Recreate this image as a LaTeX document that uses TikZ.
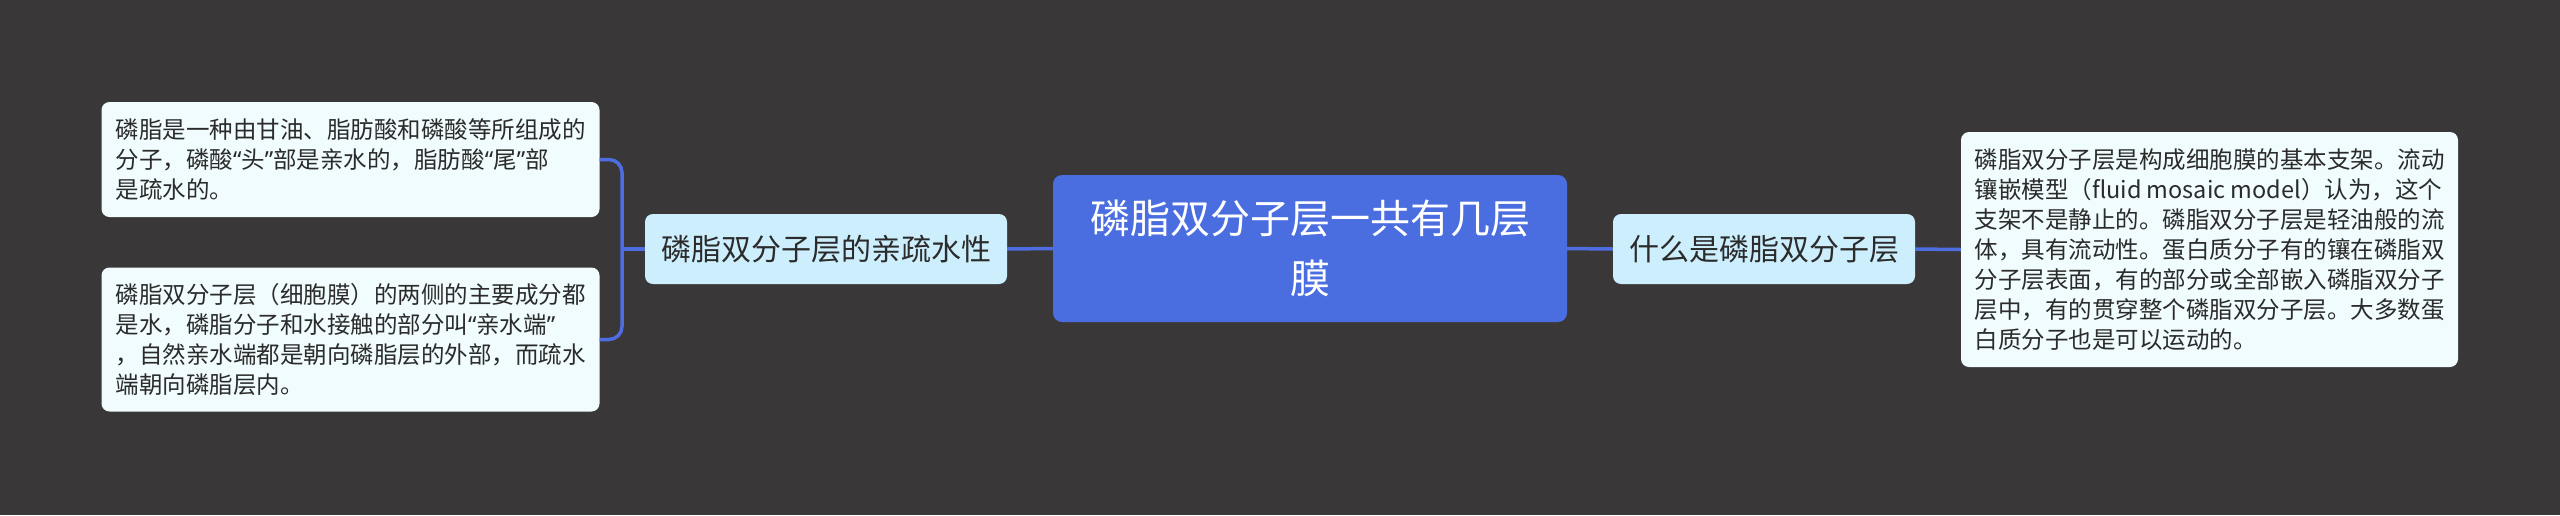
\documentclass[tikz,border=0pt]{standalone}
\usepackage{fontspec}
\setmainfont{Noto Sans CJK SC}
\newfontfamily\latq{Noto Sans}
\newcommand{\myLq}{{\latq “}}
\newcommand{\myRq}{{\latq ”}}
\definecolor{bgc}{HTML}{3A3738}
\definecolor{linec}{HTML}{4E6DE0}
\definecolor{rootc}{HTML}{4A6DE0}
\definecolor{midc}{HTML}{CDEFFD}
\definecolor{leafc}{HTML}{F0FCFD}
\definecolor{txtc}{HTML}{2B2B2B}
\begin{document}
\begin{tikzpicture}[x=1pt,y=-1pt,
  rootbox/.style={fill=rootc,rounded corners=9pt,text=white,align=center,inner sep=0pt,
    minimum width=514pt,minimum height=147pt,font=\fontsize{40}{60}\selectfont},
  midbox/.style={fill=midc,rounded corners=8pt,text=txtc,align=center,inner sep=0pt,
    minimum height=70pt,font=\fontsize{30}{36}\selectfont},
  leafbox/.style={fill=leafc,rounded corners=8pt,text=txtc,align=left,inner sep=0pt,
    font=\fontsize{23.5}{30}\selectfont},
  conn/.style={draw=linec,line width=3.5pt}]
\useasboundingbox[fill=bgc] (0,0) rectangle (2560,515);
\node[rootbox] (root) at (1310,248.5) {磷脂双分子层一共有几层\\膜};
\node[midbox,minimum width=362pt] (midL) at (826,249) {磷脂双分子层的亲疏水性};
\node[midbox,minimum width=302pt] (midR) at (1764,249) {什么是磷脂双分子层};
\node[leafbox,minimum width=498pt,minimum height=115pt] (leafA) at (350.5,159.5)
  {磷脂是一种由甘油、脂肪酸和磷酸等所组成的\\分子，磷酸\myLq 头\myRq 部是亲水的，脂肪酸\myLq 尾\myRq 部\\是疏水的。};
\node[leafbox,minimum width=498pt,minimum height=144pt] (leafB) at (350.5,339.5)
  {磷脂双分子层（细胞膜）的两侧的主要成分都\\是水，磷脂分子和水接触的部分叫\myLq 亲水端\myRq\\，自然亲水端都是朝向磷脂层的外部，而疏水\\端朝向磷脂层内。};
\node[leafbox,minimum width=497pt,minimum height=235pt] (leafR) at (2209.5,249.5)
  {磷脂双分子层是构成细胞膜的基本支架。流动\\镶嵌模型（fluid mosaic model）认为，这个\\支架不是静止的。磷脂双分子层是轻油般的流\\体，具有流动性。蛋白质分子有的镶在磷脂双\\分子层表面，有的部分或全部嵌入磷脂双分子\\层中，有的贯穿整个磷脂双分子层。大多数蛋\\白质分子也是可以运动的。};
\coordinate (br) at (622,249);
\draw[conn] (root.west) -- (midL.east);
\draw[conn] (midL.west) -- (br);
\draw[conn,rounded corners=13pt] (leafA.east) -| (br) |- (leafB.east);
\draw[conn] (root.east) -- (midR.west);
\draw[conn] (midR.east) -- (leafR.west);
\end{tikzpicture}
\end{document}
